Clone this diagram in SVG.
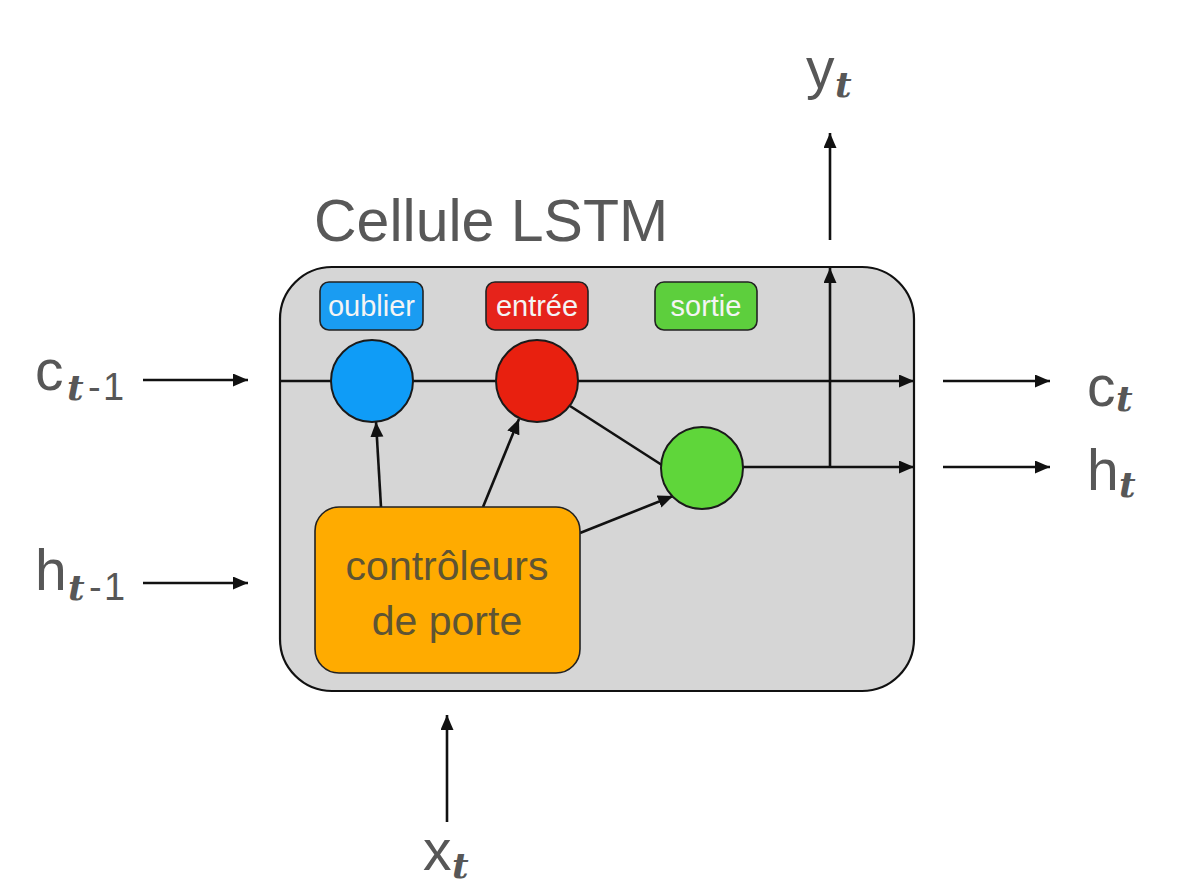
<svg xmlns="http://www.w3.org/2000/svg" width="1184" height="896" viewBox="0 0 1184 896">
<defs>
<marker id="arr" markerUnits="userSpaceOnUse" markerWidth="16" markerHeight="14" refX="15" refY="6.5" orient="auto">
<path d="M0,0 L15,6.5 L0,13 z" fill="#111"/>
</marker>
<style>
.lbl{font-family:"Liberation Sans",Arial,sans-serif;fill:#575757;font-size:57px}
.sub{font-family:"DejaVu Serif","Liberation Serif",serif;font-style:italic;font-weight:bold;fill:#575757;font-size:36px}
.subn{font-family:"Liberation Sans",Arial,sans-serif;fill:#575757;font-size:38px}
.gate{font-family:"Liberation Sans",Arial,sans-serif;fill:#f4f4f4;font-size:29px;text-anchor:middle}
.conn{stroke:#111;stroke-width:2.6;fill:none}
.arr{marker-end:url(#arr)}
.circ{stroke:#1a1a1a;stroke-width:2}
.tag{stroke:#222;stroke-width:1.6}
</style>
</defs>
<rect width="1184" height="896" fill="#ffffff"/>

<g id="cell">
<rect x="280" y="267" width="634" height="424" rx="52" ry="52" fill="#d6d6d6" stroke="#111" stroke-width="2.2"/>
</g>
<g id="title">
<text x="314" y="241" font-family="Liberation Sans, Arial, sans-serif" font-size="59" fill="#585858">Cellule LSTM</text>
</g>

<g id="connectors">
<line class="conn arr" x1="143" y1="380" x2="248" y2="380"/>
<line class="conn arr" x1="143" y1="583" x2="248" y2="583"/>
<line class="conn arr" x1="447" y1="822" x2="447" y2="715"/>
<line class="conn arr" x1="280" y1="381" x2="914" y2="381"/>
<line class="conn" x1="570" y1="406" x2="665" y2="467"/>
<line class="conn arr" x1="743" y1="467" x2="914" y2="467"/>
<line class="conn arr" x1="830" y1="467" x2="830" y2="268"/>
<line class="conn arr" x1="830" y1="240" x2="830" y2="133"/>
<line class="conn arr" x1="943" y1="381" x2="1050" y2="381"/>
<line class="conn arr" x1="943" y1="467" x2="1050" y2="467"/>
<line class="conn arr" x1="381" y1="507" x2="376" y2="422"/>
<line class="conn arr" x1="483" y1="507" x2="519" y2="419"/>
<line class="conn arr" x1="580" y1="533" x2="673" y2="496"/>
</g>

<g id="gate-oublier">
<rect class="tag" x="320" y="282" width="103" height="48" rx="9" fill="#1a9cf2"/>
<text class="gate" x="371.5" y="316">oublier</text>
</g>
<g id="gate-entree">
<rect class="tag" x="486" y="282" width="102" height="48" rx="9" fill="#e6231b"/>
<text class="gate" x="537" y="316">entrée</text>
</g>
<g id="gate-sortie">
<rect class="tag" x="655" y="282" width="102" height="48" rx="9" fill="#5dcf3d"/>
<text class="gate" x="706" y="316">sortie</text>
</g>

<g id="circle-forget">
<circle class="circ" cx="372" cy="381" r="41" fill="#0f9cf7"/>
</g>
<g id="circle-input">
<circle class="circ" cx="537" cy="381" r="41" fill="#e8200f"/>
</g>
<g id="circle-output">
<circle class="circ" cx="702" cy="468" r="41" fill="#5fd63a"/>
</g>

<g id="controllers">
<rect x="315" y="507" width="265" height="166" rx="24" fill="#ffab00" stroke="#222" stroke-width="1.6"/>
<text x="447" y="580" font-family="Liberation Sans, Arial, sans-serif" font-size="41" fill="#5e5434" text-anchor="middle">contrôleurs</text>
<text x="447" y="635" font-family="Liberation Sans, Arial, sans-serif" font-size="41" fill="#5e5434" text-anchor="middle">de porte</text>
</g>

<g id="in-c">
<text class="lbl" x="35" y="390">c</text>
<text class="sub" x="67" y="400">t</text>
<text class="subn" x="88" y="400">-</text>
<text class="subn" x="103" y="400">1</text>
</g>
<g id="in-h">
<text class="lbl" x="35" y="590">h</text>
<text class="sub" x="68" y="600">t</text>
<text class="subn" x="89" y="600">-</text>
<text class="subn" x="104" y="600">1</text>
</g>
<g id="in-x">
<text class="lbl" x="423" y="870">x</text>
<text class="sub" x="452" y="878">t</text>
</g>
<g id="out-y">
<text class="lbl" x="806" y="88">y</text>
<text class="sub" x="835" y="97">t</text>
</g>
<g id="out-c">
<text class="lbl" x="1087" y="406">c</text>
<text class="sub" x="1116" y="411">t</text>
</g>
<g id="out-h">
<text class="lbl" x="1087" y="490">h</text>
<text class="sub" x="1119" y="497">t</text>
</g>
</svg>
